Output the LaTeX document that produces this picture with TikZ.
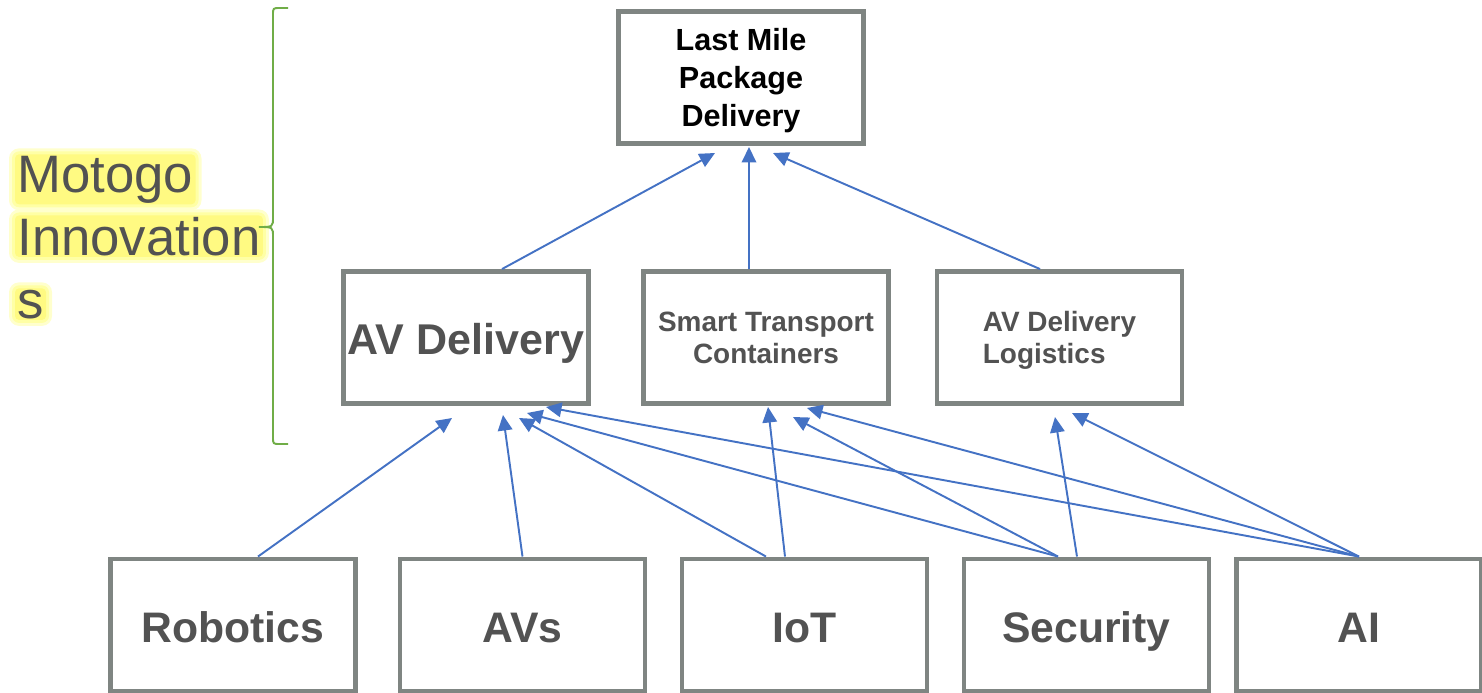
\documentclass[tikz,border=0pt]{standalone}
\usepackage{fontspec}
\setmainfont{Liberation Sans}
\usetikzlibrary{arrows.meta}
\usetikzlibrary{positioning}
\usetikzlibrary{backgrounds}

\definecolor{boxgray}{RGB}{127,133,130}
\definecolor{textgray}{RGB}{82,82,82}
\definecolor{linkblue}{RGB}{68,114,196}
\definecolor{bracegreen}{RGB}{112,173,71}
\definecolor{glowout}{RGB}{255,255,205}
\definecolor{glowmid}{RGB}{255,255,165}
\definecolor{glowin}{RGB}{255,250,130}

\begin{document}
\begin{tikzpicture}[x=0.02cm, y=-0.02cm,
		box/.style={shape=rectangle, draw=boxgray, line width=2.8pt, minimum width=4.9cm, minimum height=2.64cm, inner sep=0pt, text=textgray},
		tech/.style={box, font=\fontsize{24.3pt}{28pt}\selectfont\bfseries, text height=24pt, text depth=4.4pt},
		mid/.style={box, align=center, font=\fontsize{15.9pt}{18.3pt}\selectfont\bfseries, text depth=0pt},
		feed/.style={-{Triangle[length=0.31cm,width=0.29cm]}, draw=linkblue, line width=1.1pt},
		moto/.style={anchor=base west, inner sep=0pt, text=textgray, font=\fontsize{30pt}{36pt}\selectfont},
]
\useasboundingbox (0,0) rectangle (1482,693);

% label with glow
\foreach \ln/\txt/\yy in {1/Motogo/192, 2/Innovation/255, 3/s/318}
	\node[moto] (moto\ln) at (17,\yy) {\txt};
\begin{scope}[on background layer]
\foreach \ln in {1,2,3} {
	\fill[glowout, rounded corners=0.2cm] ([shift={(-8,7)}]moto\ln.south west) rectangle ([shift={(8,-7)}]moto\ln.north east);
	\fill[glowmid, rounded corners=0.14cm] ([shift={(-5,4)}]moto\ln.south west) rectangle ([shift={(5,-4)}]moto\ln.north east);
	\fill[glowin, rounded corners=0.08cm] ([shift={(-2,1)}]moto\ln.south west) rectangle ([shift={(2,-1)}]moto\ln.north east);
}
\end{scope}

\draw [bracegreen, line width=1.1pt] (288,8) -- (280,8) .. controls (273,8) .. (273,15) -- (273,217)
	.. controls (273,227) .. (259,227) .. controls (273,227) .. (273,237) -- (273,437)
	.. controls (273,444) .. (280,444) -- (288,444);

\node[box, text=black, align=center, text depth=0pt, font=\fontsize{17.4pt}{21.8pt}\selectfont\bfseries] (lastmile) at (741,77.5) {Last Mile\\Package\\Delivery};

\node[box, font=\fontsize{24.5pt}{28pt}\selectfont\bfseries, text height=24pt, text depth=4.4pt] (avdel) at (466,337.5) {AV Delivery};
\node[mid] (smart) at (766,337.5) {Smart Transport\\Containers};
\node[mid, align=left] (logistics) at (1059.5,337.5) {AV Delivery\\Logistics};

\node[tech] (robotics) at (233,625) {Robotics};
\node[tech] (avs) at (522.5,625) {AVs};
\node[tech] (iot) at (804.5,625) {IoT};
\node[tech] (security) at (1086.5,625) {Security};
\node[tech] (ai) at (1359,625) {AI};

% arrow tips
\coordinate (top1) at (715,153);
\coordinate (top2) at (749,147);
\coordinate (top3) at (773,153);
\coordinate (del1) at (452,418);
\coordinate (del2) at (503,415);
\coordinate (del3) at (519,418);
\coordinate (del4) at (527,413);
\coordinate (del5) at (546,407);
\coordinate (sm1) at (768,407);
\coordinate (sm2) at (793,417);
\coordinate (sm3) at (807,408);
\coordinate (log1) at (1055,417);
\coordinate (log2) at (1072,413);

\draw [feed] ([xshift=0.72cm]avdel.north) -- (top1);
\draw [feed] ([xshift=-0.34cm]smart.north) -- (top2);
\draw [feed] ([xshift=-0.39cm]logistics.north) -- (top3);

\draw [feed] ([xshift=0.5cm]robotics.north) -- (del1);
\draw [feed] (avs.north) -- (del2);
\draw [feed] ([xshift=-0.77cm]iot.north) -- (del3);
\draw [feed] ([xshift=-0.57cm]security.north) -- (del4);
\draw [feed] (ai.north) -- (del5);

\draw [feed] ([xshift=-0.39cm]iot.north) -- (sm1);
\draw [feed] ([xshift=-0.57cm]security.north) -- (sm2);
\draw [feed] (ai.north) -- (sm3);

\draw [feed] ([xshift=-0.19cm]security.north) -- (log1);
\draw [feed] (ai.north) -- (log2);

\end{tikzpicture}
\end{document}
